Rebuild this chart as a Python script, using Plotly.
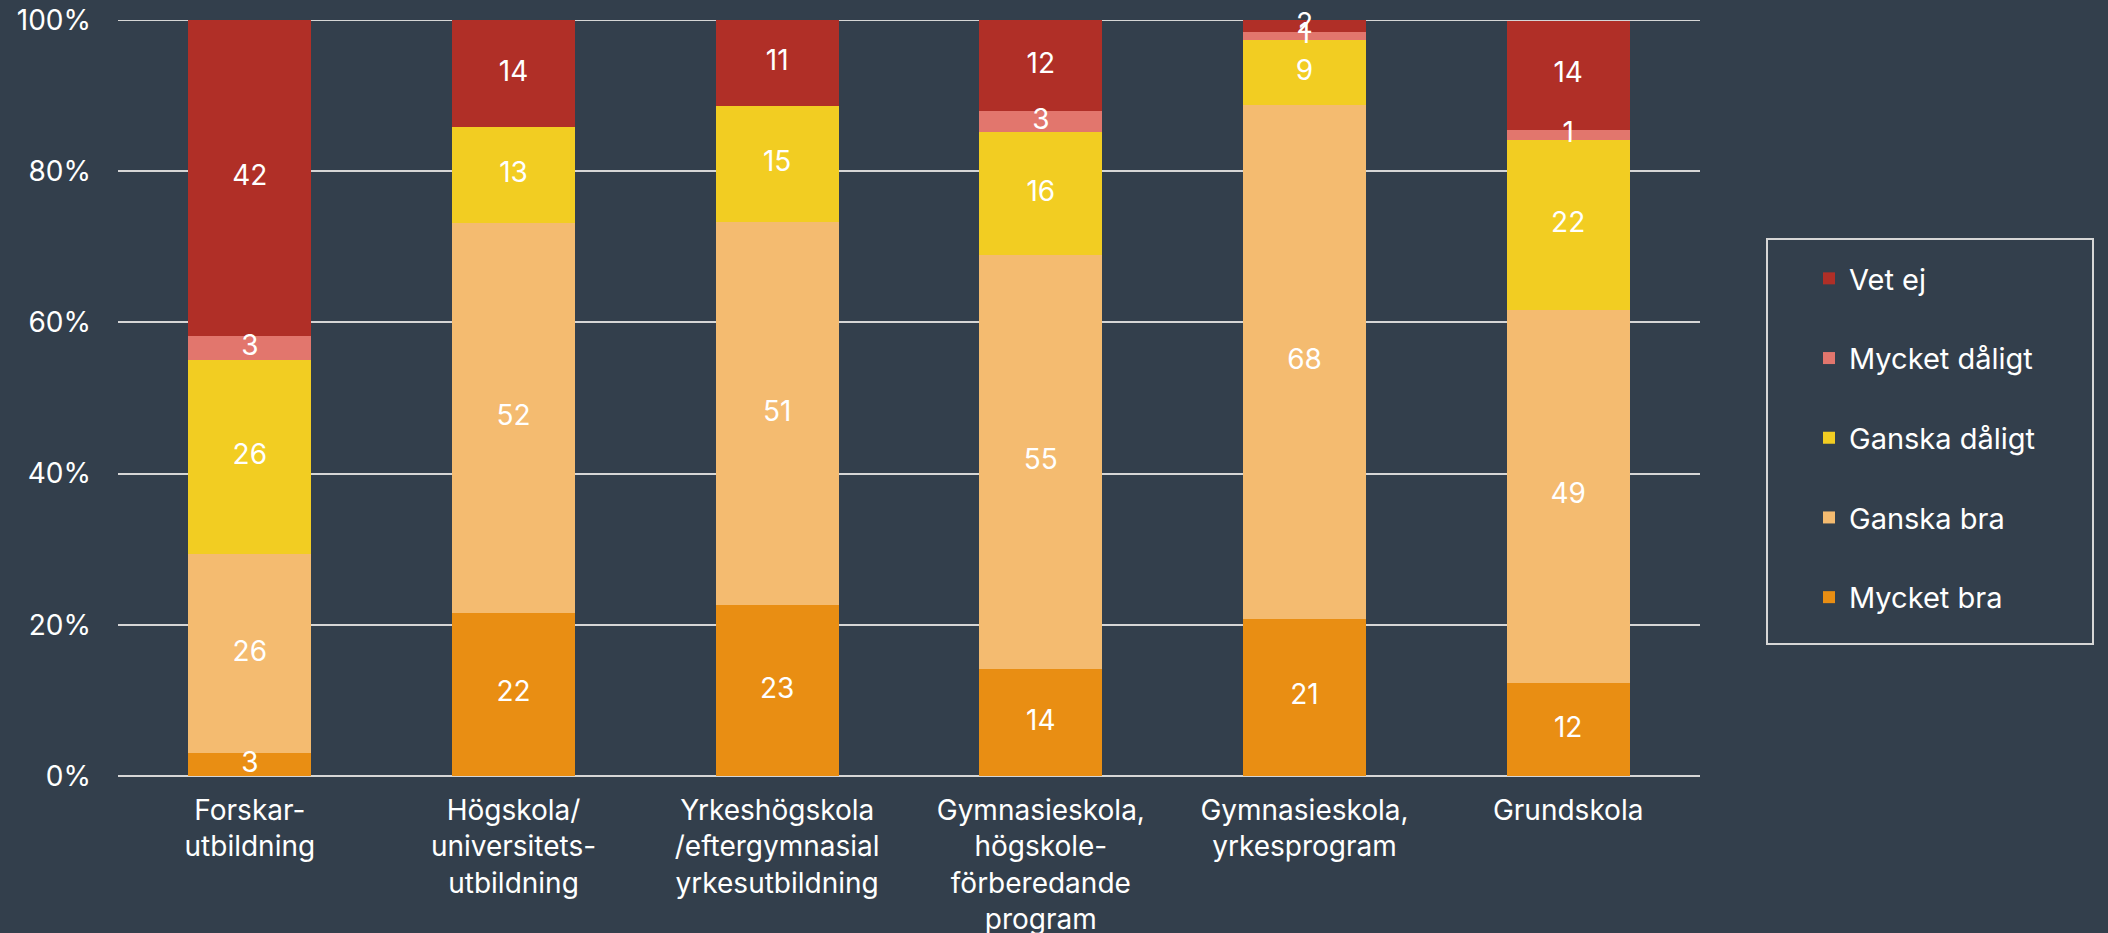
import plotly.graph_objects as go

categories = [
    "Forskar-<br>utbildning",
    "Högskola/<br>universitets-<br>utbildning",
    "Yrkeshögskola<br>/eftergymnasial<br>yrkesutbildning",
    "Gymnasieskola,<br>högskole-<br>förberedande<br>program",
    "Gymnasieskola,<br>yrkesprogram",
    "Grundskola",
]

mycket_bra    = [3.0, 21.6, 22.6, 14.1, 20.8, 12.3]
ganska_bra    = [26.4, 51.6, 50.7, 54.8, 67.9, 49.4]
ganska_daligt = [25.6, 12.6, 15.3, 16.3, 8.7, 22.4]
mycket_daligt = [3.2, 0.0, 0.0, 2.7, 1.0, 1.4]
vet_ej        = [41.8, 14.2, 11.4, 12.1, 1.6, 14.4]

y_ticks = [0, 20, 40, 60, 80, 100]
y_tick_labels = ["0%", "20%", "40%", "60%", "80%", "100%"]

series = [
    ("Mycket bra", mycket_bra, "#E98E13"),
    ("Ganska bra", ganska_bra, "#F4BB70"),
    ("Ganska dåligt", ganska_daligt, "#F2CD22"),
    ("Mycket dåligt", mycket_daligt, "#E2766D"),
    ("Vet ej", vet_ej, "#B02F27"),
]

BG = "#333F4C"
GRID = "#D6D6D6"
FONT = "Inter, Open Sans, sans-serif"

fig = go.Figure()
n = len(series)
for i, (name, vals, color) in enumerate(series):
    fig.add_trace(go.Bar(
        x=categories, y=vals, name=name, legendgroup=name, legendrank=n - i,
        marker=dict(color=color, line=dict(width=0)),
        hoverinfo="skip",
    ))

# value labels above all bars, at the middle of each stacked segment
lab_x, lab_y, lab_t = [], [], []
for j, cat in enumerate(categories):
    base = 0.0
    for name, vals, color in series:
        v = vals[j]
        if v and v > 0:
            lab_x.append(cat)
            lab_y.append(base + v / 2)
            lab_t.append(f"{v:.0f}")
        base += v or 0
fig.add_trace(go.Scatter(
    x=lab_x, y=lab_y, text=lab_t, mode="text", showlegend=False,
    textfont=dict(color="white", size=28, family=FONT),
    textposition="middle center", hoverinfo="skip", cliponaxis=False,
))

W, H = 2108, 933
PL, PT, PR, PB = 118, 20, 1700, 776  # plot area in page pixels
L, T = PL, PT
R = W - PR
B = H - PB
pw, ph = PR - PL, PB - PT

def px_x(x):
    return (x - PL) / pw

def px_y(y):
    return (PB - y) / ph

# legend frame
fig.add_shape(type="rect", xref="paper", yref="paper",
              x0=px_x(1767), x1=px_x(2093), y0=px_y(644), y1=px_y(239),
              line=dict(color=GRID, width=2), fillcolor="rgba(0,0,0,0)")
# top gridline at 100% (plotly drops gridlines at the range end)
fig.add_shape(type="line", xref="paper", yref="y", x0=0, x1=1,
              y0=y_ticks[-1], y1=y_ticks[-1], layer="below",
              line=dict(color=GRID, width=2))

fig.update_layout(
    width=W, height=H,
    margin=dict(l=L, r=R, t=T, b=B, autoexpand=False),
    barmode="stack", bargap=0.534,
    paper_bgcolor=BG, plot_bgcolor=BG,
    font=dict(family=FONT, color="white", size=28),
    showlegend=True,
    legend=dict(
        x=px_x(1809), xanchor="left", y=px_y(253), yanchor="top",
        traceorder="grouped", tracegroupgap=39,
        font=dict(size=29, color="white", family=FONT),
        bgcolor="rgba(0,0,0,0)", borderwidth=0,
    ),
    xaxis=dict(showgrid=False, showline=False, ticks="", ticklabelstandoff=15,
               tickfont=dict(size=28, color="white", family=FONT)),
    yaxis=dict(range=[0, 100], tickmode="array", tickvals=y_ticks, ticktext=y_tick_labels,
               showgrid=True, gridcolor=GRID, gridwidth=2,
               zeroline=True, zerolinecolor=GRID, zerolinewidth=2,
               showline=False, ticks="", ticklabelstandoff=26,
               tickfont=dict(size=28, color="white", family=FONT)),
)

fig.write_html("out.html", config={"displayModeBar": False},
               post_script="document.body.style.margin='0';")
